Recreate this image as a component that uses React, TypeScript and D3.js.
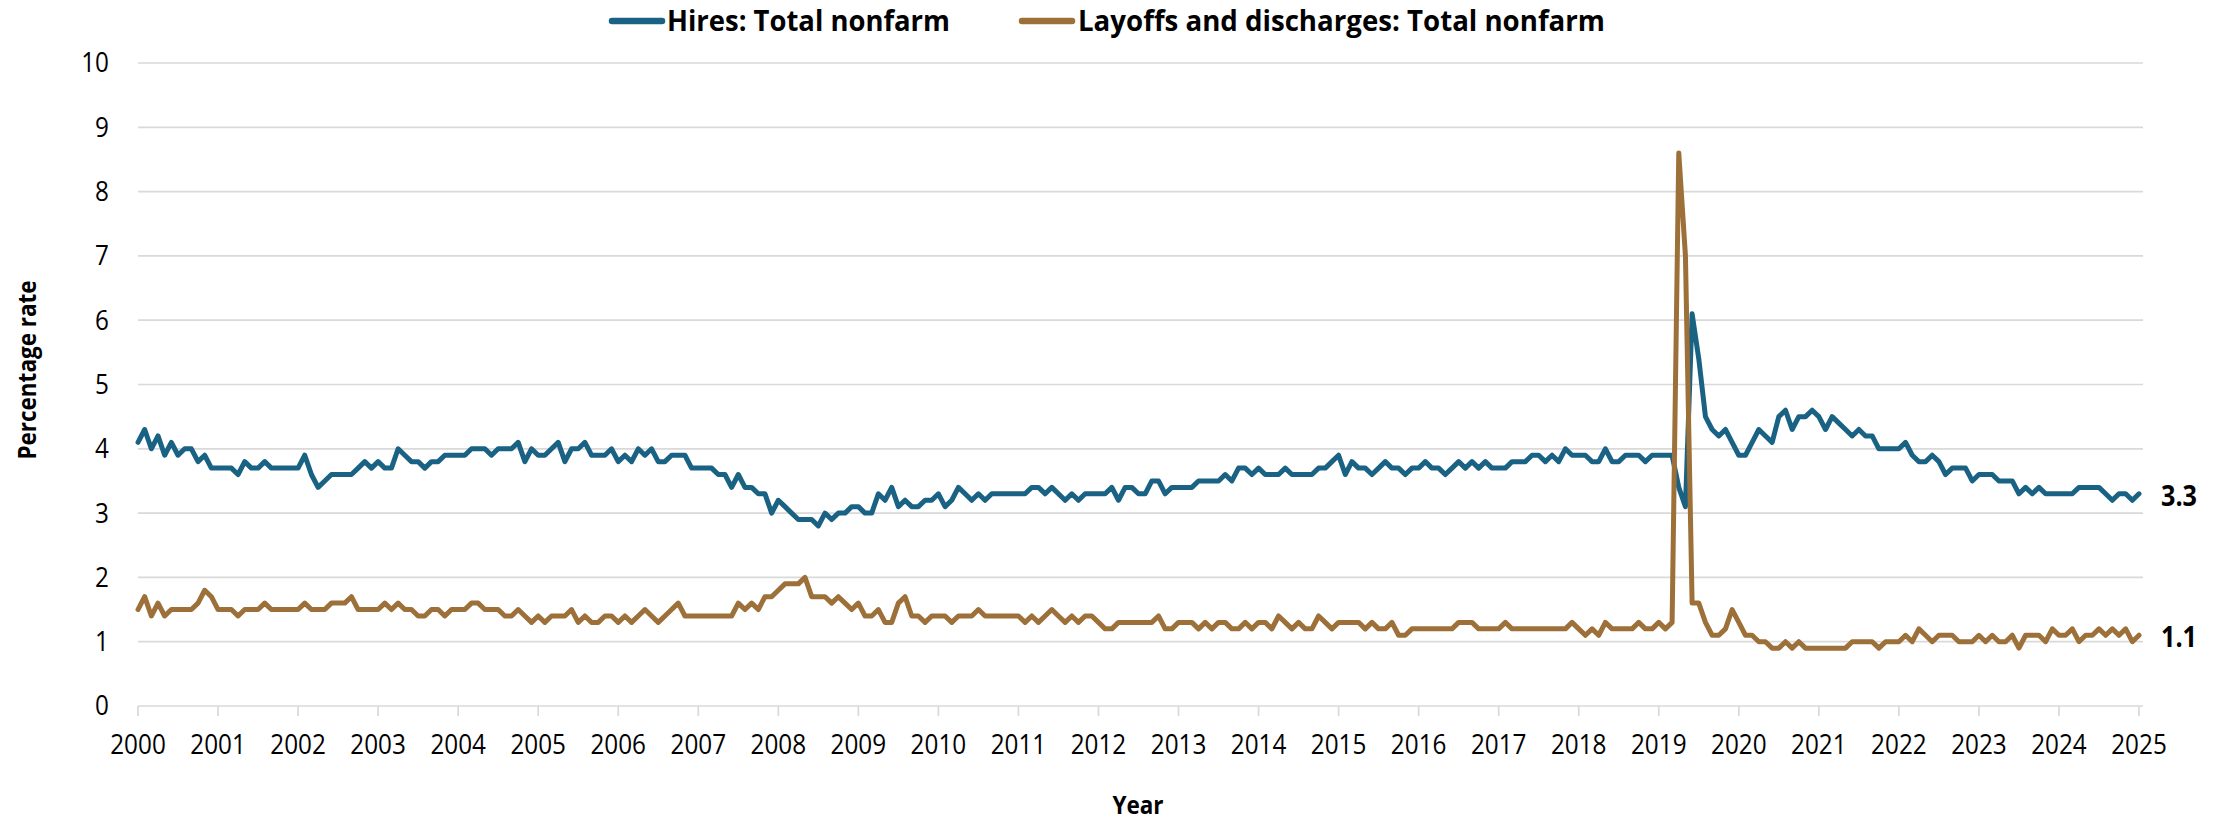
import React from "react";
import * as d3 from "d3";

// Monthly rates, first point at 2000.0, one point per month, last point at 2025.0
const hiresRate: number[] = [
  4.1, 4.3, 4.0, 4.2, 3.9, 4.1, 3.9, 4.0, 4.0, 3.8, 3.9, 3.7,
  3.7, 3.7, 3.7, 3.6, 3.8, 3.7, 3.7, 3.8, 3.7, 3.7, 3.7, 3.7,
  3.7, 3.9, 3.6, 3.4, 3.5, 3.6, 3.6, 3.6, 3.6, 3.7, 3.8, 3.7,
  3.8, 3.7, 3.7, 4.0, 3.9, 3.8, 3.8, 3.7, 3.8, 3.8, 3.9, 3.9,
  3.9, 3.9, 4.0, 4.0, 4.0, 3.9, 4.0, 4.0, 4.0, 4.1, 3.8, 4.0,
  3.9, 3.9, 4.0, 4.1, 3.8, 4.0, 4.0, 4.1, 3.9, 3.9, 3.9, 4.0,
  3.8, 3.9, 3.8, 4.0, 3.9, 4.0, 3.8, 3.8, 3.9, 3.9, 3.9, 3.7,
  3.7, 3.7, 3.7, 3.6, 3.6, 3.4, 3.6, 3.4, 3.4, 3.3, 3.3, 3.0,
  3.2, 3.1, 3.0, 2.9, 2.9, 2.9, 2.8, 3.0, 2.9, 3.0, 3.0, 3.1,
  3.1, 3.0, 3.0, 3.3, 3.2, 3.4, 3.1, 3.2, 3.1, 3.1, 3.2, 3.2,
  3.3, 3.1, 3.2, 3.4, 3.3, 3.2, 3.3, 3.2, 3.3, 3.3, 3.3, 3.3,
  3.3, 3.3, 3.4, 3.4, 3.3, 3.4, 3.3, 3.2, 3.3, 3.2, 3.3, 3.3,
  3.3, 3.3, 3.4, 3.2, 3.4, 3.4, 3.3, 3.3, 3.5, 3.5, 3.3, 3.4,
  3.4, 3.4, 3.4, 3.5, 3.5, 3.5, 3.5, 3.6, 3.5, 3.7, 3.7, 3.6,
  3.7, 3.6, 3.6, 3.6, 3.7, 3.6, 3.6, 3.6, 3.6, 3.7, 3.7, 3.8,
  3.9, 3.6, 3.8, 3.7, 3.7, 3.6, 3.7, 3.8, 3.7, 3.7, 3.6, 3.7,
  3.7, 3.8, 3.7, 3.7, 3.6, 3.7, 3.8, 3.7, 3.8, 3.7, 3.8, 3.7,
  3.7, 3.7, 3.8, 3.8, 3.8, 3.9, 3.9, 3.8, 3.9, 3.8, 4.0, 3.9,
  3.9, 3.9, 3.8, 3.8, 4.0, 3.8, 3.8, 3.9, 3.9, 3.9, 3.8, 3.9,
  3.9, 3.9, 3.9, 3.4, 3.1, 6.1, 5.4, 4.5, 4.3, 4.2, 4.3, 4.1,
  3.9, 3.9, 4.1, 4.3, 4.2, 4.1, 4.5, 4.6, 4.3, 4.5, 4.5, 4.6,
  4.5, 4.3, 4.5, 4.4, 4.3, 4.2, 4.3, 4.2, 4.2, 4.0, 4.0, 4.0,
  4.0, 4.1, 3.9, 3.8, 3.8, 3.9, 3.8, 3.6, 3.7, 3.7, 3.7, 3.5,
  3.6, 3.6, 3.6, 3.5, 3.5, 3.5, 3.3, 3.4, 3.3, 3.4, 3.3, 3.3,
  3.3, 3.3, 3.3, 3.4, 3.4, 3.4, 3.4, 3.3, 3.2, 3.3, 3.3, 3.2,
  3.3,
];

const layoffsRate: number[] = [
  1.5, 1.7, 1.4, 1.6, 1.4, 1.5, 1.5, 1.5, 1.5, 1.6, 1.8, 1.7,
  1.5, 1.5, 1.5, 1.4, 1.5, 1.5, 1.5, 1.6, 1.5, 1.5, 1.5, 1.5,
  1.5, 1.6, 1.5, 1.5, 1.5, 1.6, 1.6, 1.6, 1.7, 1.5, 1.5, 1.5,
  1.5, 1.6, 1.5, 1.6, 1.5, 1.5, 1.4, 1.4, 1.5, 1.5, 1.4, 1.5,
  1.5, 1.5, 1.6, 1.6, 1.5, 1.5, 1.5, 1.4, 1.4, 1.5, 1.4, 1.3,
  1.4, 1.3, 1.4, 1.4, 1.4, 1.5, 1.3, 1.4, 1.3, 1.3, 1.4, 1.4,
  1.3, 1.4, 1.3, 1.4, 1.5, 1.4, 1.3, 1.4, 1.5, 1.6, 1.4, 1.4,
  1.4, 1.4, 1.4, 1.4, 1.4, 1.4, 1.6, 1.5, 1.6, 1.5, 1.7, 1.7,
  1.8, 1.9, 1.9, 1.9, 2.0, 1.7, 1.7, 1.7, 1.6, 1.7, 1.6, 1.5,
  1.6, 1.4, 1.4, 1.5, 1.3, 1.3, 1.6, 1.7, 1.4, 1.4, 1.3, 1.4,
  1.4, 1.4, 1.3, 1.4, 1.4, 1.4, 1.5, 1.4, 1.4, 1.4, 1.4, 1.4,
  1.4, 1.3, 1.4, 1.3, 1.4, 1.5, 1.4, 1.3, 1.4, 1.3, 1.4, 1.4,
  1.3, 1.2, 1.2, 1.3, 1.3, 1.3, 1.3, 1.3, 1.3, 1.4, 1.2, 1.2,
  1.3, 1.3, 1.3, 1.2, 1.3, 1.2, 1.3, 1.3, 1.2, 1.2, 1.3, 1.2,
  1.3, 1.3, 1.2, 1.4, 1.3, 1.2, 1.3, 1.2, 1.2, 1.4, 1.3, 1.2,
  1.3, 1.3, 1.3, 1.3, 1.2, 1.3, 1.2, 1.2, 1.3, 1.1, 1.1, 1.2,
  1.2, 1.2, 1.2, 1.2, 1.2, 1.2, 1.3, 1.3, 1.3, 1.2, 1.2, 1.2,
  1.2, 1.3, 1.2, 1.2, 1.2, 1.2, 1.2, 1.2, 1.2, 1.2, 1.2, 1.3,
  1.2, 1.1, 1.2, 1.1, 1.3, 1.2, 1.2, 1.2, 1.2, 1.3, 1.2, 1.2,
  1.3, 1.2, 1.3, 8.6, 7.0, 1.6, 1.6, 1.3, 1.1, 1.1, 1.2, 1.5,
  1.3, 1.1, 1.1, 1.0, 1.0, 0.9, 0.9, 1.0, 0.9, 1.0, 0.9, 0.9,
  0.9, 0.9, 0.9, 0.9, 0.9, 1.0, 1.0, 1.0, 1.0, 0.9, 1.0, 1.0,
  1.0, 1.1, 1.0, 1.2, 1.1, 1.0, 1.1, 1.1, 1.1, 1.0, 1.0, 1.0,
  1.1, 1.0, 1.1, 1.0, 1.0, 1.1, 0.9, 1.1, 1.1, 1.1, 1.0, 1.2,
  1.1, 1.1, 1.2, 1.0, 1.1, 1.1, 1.2, 1.1, 1.2, 1.1, 1.2, 1.0,
  1.1,
];

const yearTicks: number[] = d3.range(2000, 2026);
const yTicks: number[] = d3.range(0, 11);
const seriesNames: string[] = ["Hires: Total nonfarm", "Layoffs and discharges: Total nonfarm"];
const seriesColors: string[] = ["#1a6283", "#9c7038"];
const yAxisTitle = "Percentage rate";
const xAxisTitle = "Year";

const W = 2224;
const H = 824;
const FONT = "'Open Sans', 'Noto Sans', sans-serif";
const SX = 0.9; // horizontal squeeze of glyphs seen in the reference

type TProps = {
  x: number;
  y: number;
  size: number;
  anchor?: "start" | "middle" | "end";
  bold?: boolean;
  rotate?: number;
  children: React.ReactNode;
};

function T({ x, y, size, anchor = "start", bold = false, rotate = 0, children }: TProps) {
  return (
    <g transform={`translate(${x},${y}) rotate(${rotate}) scale(${SX},1)`}>
      <text
        x={0}
        y={0}
        dy="0.35em"
        textAnchor={anchor}
        fontSize={size}
        fontWeight={bold ? "bold" : "normal"}
        fill="#000"
      >
        {children}
      </text>
    </g>
  );
}

export default function App() {
  const x = d3.scaleLinear().domain([2000, 2025]).range([138, 2139]);
  const y = d3.scaleLinear().domain([0, 10]).range([706, 63]);

  const mk = (vals: number[]) =>
    d3
      .line<number>()
      .x((_, i) => x(2000 + i / 12))
      .y((v) => y(v))
      .curve(d3.curveLinear)(vals) as string;

  const series = [hiresRate, layoffsRate];
  const lastX = x(2000 + (hiresRate.length - 1) / 12);

  return (
    <svg
      width={W}
      height={H}
      style={{ position: "absolute", left: 0, top: 0, background: "#fff" }}
      fontFamily={FONT}
    >
      {/* gridlines */}
      {yTicks.map((t) => (
        <line
          key={"g" + t}
          x1={x(2000)}
          x2={x(2025) + 4}
          y1={y(t)}
          y2={y(t)}
          stroke="#d9d9d9"
          strokeWidth={1.7}
        />
      ))}
      {/* x ticks */}
      {yearTicks.map((yr) => (
        <line
          key={"t" + yr}
          x1={x(yr)}
          x2={x(yr)}
          y1={y(0)}
          y2={y(0) + 10}
          stroke="#d9d9d9"
          strokeWidth={1.7}
        />
      ))}
      {/* y labels */}
      {yTicks.map((t) => (
        <T key={"yl" + t} x={109} y={y(t)} size={27} anchor="end">
          {t}
        </T>
      ))}
      {/* x labels */}
      {yearTicks.map((yr) => (
        <T key={"xl" + yr} x={x(yr)} y={745} size={27} anchor="middle">
          {yr}
        </T>
      ))}
      {/* axis titles */}
      <T x={27} y={370} size={25} anchor="middle" bold rotate={-90}>
        {yAxisTitle}
      </T>
      <T x={1138} y={805} size={25} anchor="middle" bold>
        {xAxisTitle}
      </T>
      {/* lines */}
      {series.map((s, i) => (
        <path
          key={"s" + i}
          d={mk(s)}
          fill="none"
          stroke={seriesColors[i]}
          strokeWidth={5}
          strokeLinejoin="round"
          strokeLinecap="round"
        />
      ))}
      {/* end labels */}
      {series.map((s, i) => (
        <T key={"e" + i} x={lastX + 22} y={y(s[s.length - 1]) + 2} size={28} bold>
          {s[s.length - 1].toFixed(1)}
        </T>
      ))}
      {/* legend */}
      <line x1={612} x2={662} y1={21} y2={21} stroke={seriesColors[0]} strokeWidth={6.5} strokeLinecap="round" />
      <text x={667} y={21} dy="0.35em" fontSize={28} fontWeight="bold" textLength={283} lengthAdjust="spacingAndGlyphs">
        {seriesNames[0]}
      </text>
      <line x1={1022} x2={1072} y1={21} y2={21} stroke={seriesColors[1]} strokeWidth={6.5} strokeLinecap="round" />
      <text x={1078} y={21} dy="0.35em" fontSize={28} fontWeight="bold" textLength={527} lengthAdjust="spacingAndGlyphs">
        {seriesNames[1]}
      </text>
    </svg>
  );
}
